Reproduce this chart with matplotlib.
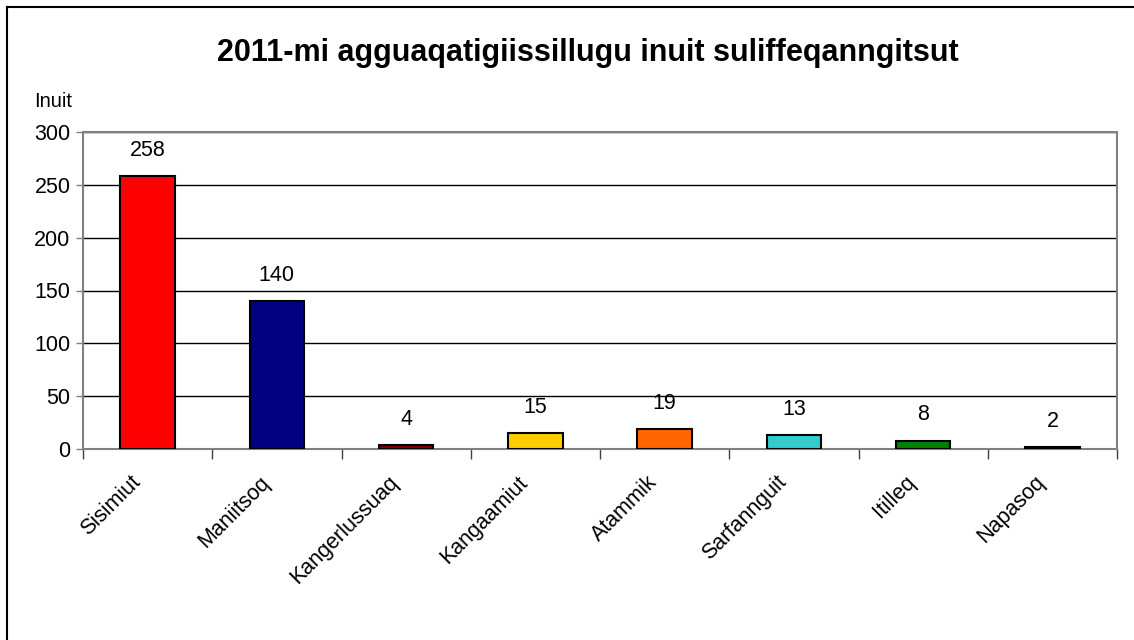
import matplotlib
matplotlib.use("Agg")
import matplotlib.pyplot as plt
from matplotlib.lines import Line2D
from matplotlib.transforms import ScaledTranslation

plt.rcParams["font.family"] = ["Liberation Sans", "DejaVu Sans"]

# data
places = ["Sisimiut", "Maniitsoq", "Kangerlussuaq", "Kangaamiut", "Atammik",
          "Sarfannguit", "Itilleq", "Napasoq"]
people = [258, 140, 4, 15, 19, 13, 8, 2]
colors = ["#FF0000", "#000080", "#800000", "#FFCC00", "#FF6600",
          "#33CCCC", "#008000", "#000000"]
yticks = [0, 50, 100, 150, 200, 250, 300]

fig = plt.figure(figsize=(11.34, 6.4), dpi=100)
ax = fig.add_axes([83 / 1134, 1 - 449 / 640, (1117 - 83) / 1134, (449 - 132) / 640])

x = list(range(len(places)))
ax.bar(x, people, width=0.42, color=colors, edgecolor="black", linewidth=1.5, zorder=3)
for xi, v in zip(x, people):
    ax.annotate(str(v), (xi, v), xytext=(0, 18.5), textcoords="offset points",
                ha="center", va="center", fontsize=15.5)

ax.set_xlim(-0.5, len(places) - 0.5)
ax.set_ylim(0, 300)
ax.set_yticks(yticks)
ax.tick_params(axis="y", labelsize=15.5, length=5, width=1, color="#808080", pad=4)
ax.yaxis.grid(True, color="black", linewidth=1, zorder=0)

# category boundary ticks, labels at centres
ax.set_xticks([i - 0.5 for i in range(len(places) + 1)])
ax.set_xticklabels([])
ax.set_xticks(x, minor=True)
ax.set_xticklabels(places, minor=True, rotation=45, ha="right", va="top",
                   rotation_mode="anchor", fontsize=15.5)
ax.tick_params(axis="x", which="major", length=7, width=1, color="#404040", direction="out")
ax.tick_params(axis="x", which="minor", length=0, pad=16.5)
shift = ScaledTranslation(-13 / 72, 0, fig.dpi_scale_trans)
for lbl in ax.get_xticklabels(minor=True):
    lbl.set_transform(lbl.get_transform() + shift)

for side in ["top", "right", "left", "bottom"]:
    ax.spines[side].set_color("#808080")
    ax.spines[side].set_linewidth(1.5)

ax.text(-0.047, 1.065, "Inuit", transform=ax.transAxes, ha="left", va="bottom", fontsize=14.5)

fig.suptitle("2011-mi agguaqatigiissillugu inuit suliffeqanngitsut",
             fontsize=22, fontweight="bold", x=588 / 1134, y=1 - 53 / 640, va="center")

# outer border (left and top, as in reference)
fig.add_artist(Line2D([7 / 1134, 7 / 1134], [0, 1 - 7 / 640], transform=fig.transFigure,
                      color="black", linewidth=1.5))
fig.add_artist(Line2D([7 / 1134, 1], [1 - 7 / 640, 1 - 7 / 640], transform=fig.transFigure,
                      color="black", linewidth=1.5))

fig.savefig("out.png", dpi=100)
